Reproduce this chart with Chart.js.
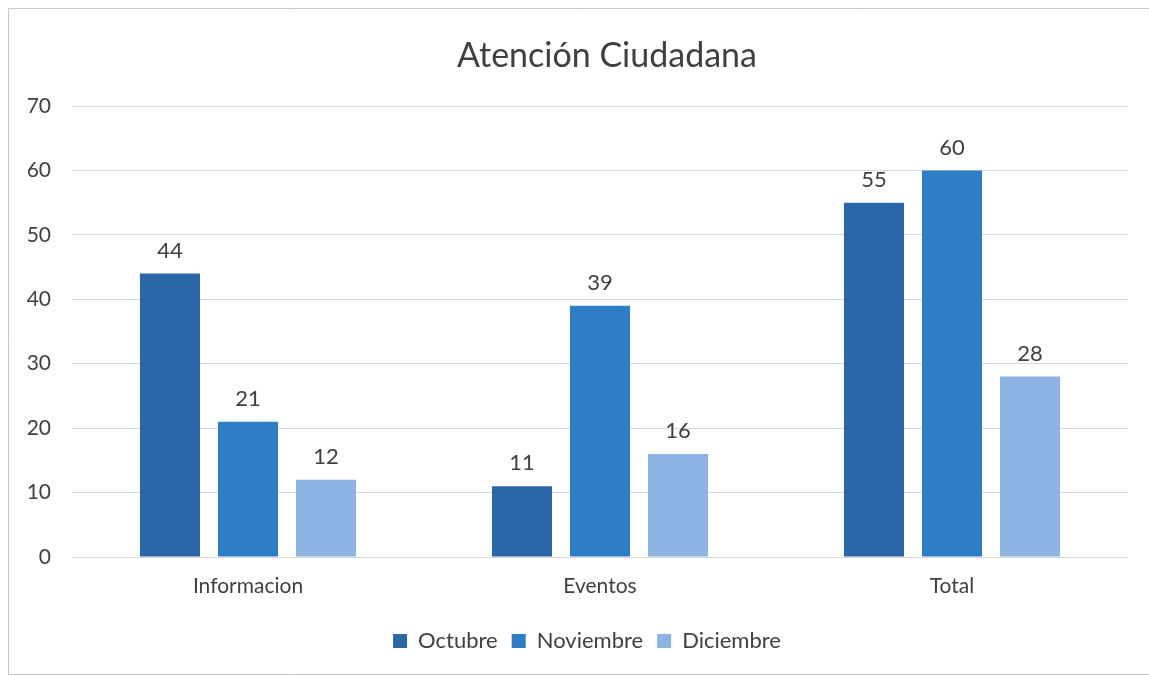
<!DOCTYPE html>
<html>
<head>
<meta charset="utf-8">
<script src="https://cdn.jsdelivr.net/npm/chart.js@4.4.0/dist/chart.umd.min.js"></script>
<style>
  html, body { margin: 0; padding: 0; background: #ffffff; }
  #wrap { position: absolute; left: 0; top: 0; width: 1149px; height: 676px; }
</style>
</head>
<body>
<div id="wrap"><canvas id="c" width="1149" height="676"></canvas></div>
<script>
const categories = ["Informacion", "Eventos", "Total"];
const seriesNames = ["Octubre", "Noviembre", "Diciembre"];
const octubre = [44, 11, 55];
const noviembre = [21, 39, 60];
const diciembre = [12, 16, 28];
const chartTitle = "Atención Ciudadana";
const yMin = 0, yMax = 70, yStep = 10;

const colors = ["#2b67a6", "#2f7dc5", "#8cb3e2"];
const FONT = "Lato, 'Open Sans', sans-serif";
const TEXT = "#404040";

const framePlugin = {
  id: 'frame',
  beforeDraw(chart) {
    const ctx = chart.ctx;
    ctx.save();
    ctx.fillStyle = '#ffffff';
    ctx.fillRect(0, 0, chart.width, chart.height);
    ctx.strokeStyle = '#c8c8c8';
    ctx.lineWidth = 1;
    ctx.beginPath();
    ctx.moveTo(1149, 8.5); ctx.lineTo(8.5, 8.5); ctx.lineTo(8.5, 674.5); ctx.lineTo(1149, 674.5);
    ctx.stroke();
    ctx.restore();
  },
  afterDraw(chart) {
    const ctx = chart.ctx;
    ctx.save();
    ctx.fillStyle = TEXT;
    ctx.font = "34px " + FONT;
    ctx.textAlign = 'center';
    ctx.textBaseline = 'middle';
    ctx.fillText(chartTitle, 607, 56);
    ctx.restore();
  }
};

const labelPlugin = {
  id: 'valueLabels',
  afterDatasetsDraw(chart) {
    const ctx = chart.ctx;
    ctx.save();
    ctx.fillStyle = TEXT;
    ctx.font = "22px " + FONT;
    ctx.textAlign = 'center';
    ctx.textBaseline = 'bottom';
    chart.data.datasets.forEach((ds, i) => {
      const meta = chart.getDatasetMeta(i);
      meta.data.forEach((bar, j) => {
        ctx.fillText(String(ds.data[j]), bar.x, bar.y - 12);
      });
    });
    ctx.restore();
  }
};

const legendShift = {
  id: 'legendShift',
  afterLayout(chart) {
    const lg = chart.legend;
    if (lg) { lg.left += 23; lg.right += 23; }
  }
};

new Chart(document.getElementById('c'), {
  type: 'bar',
  data: {
    labels: categories,
    datasets: [
      { label: seriesNames[0], data: octubre, backgroundColor: colors[0] },
      { label: seriesNames[1], data: noviembre, backgroundColor: colors[1] },
      { label: seriesNames[2], data: diciembre, backgroundColor: colors[2] }
    ]
  },
  options: {
    responsive: false,
    animation: false,
    events: [],
    categoryPercentage: 0.665,
    barPercentage: 0.77,
    layout: { padding: { top: 106, right: 21, bottom: 14, left: 0 } },
    plugins: {
      title: { display: false },
      tooltip: { enabled: false },
      legend: {
        position: 'bottom',
        labels: {
          font: { family: FONT, size: 22 },
          color: TEXT,
          boxWidth: 14,
          boxHeight: 14,
          padding: 14
        }
      }
    },
    scales: {
      x: {
        grid: { display: false, drawTicks: false },
        border: { display: false },
        ticks: { font: { family: FONT, size: 21 }, color: TEXT, padding: 17 },
        afterFit(scale) { scale.height = 59; }
      },
      y: {
        min: yMin, max: yMax,
        ticks: { stepSize: yStep, font: { family: FONT, size: 21 }, color: TEXT, padding: 21 },
        grid: { color: '#d9d9d9', drawTicks: false },
        border: { display: false },
        afterFit(scale) { scale.width = 72; }
      }
    }
  },
  plugins: [framePlugin, labelPlugin, legendShift]
});
</script>
</body>
</html>
